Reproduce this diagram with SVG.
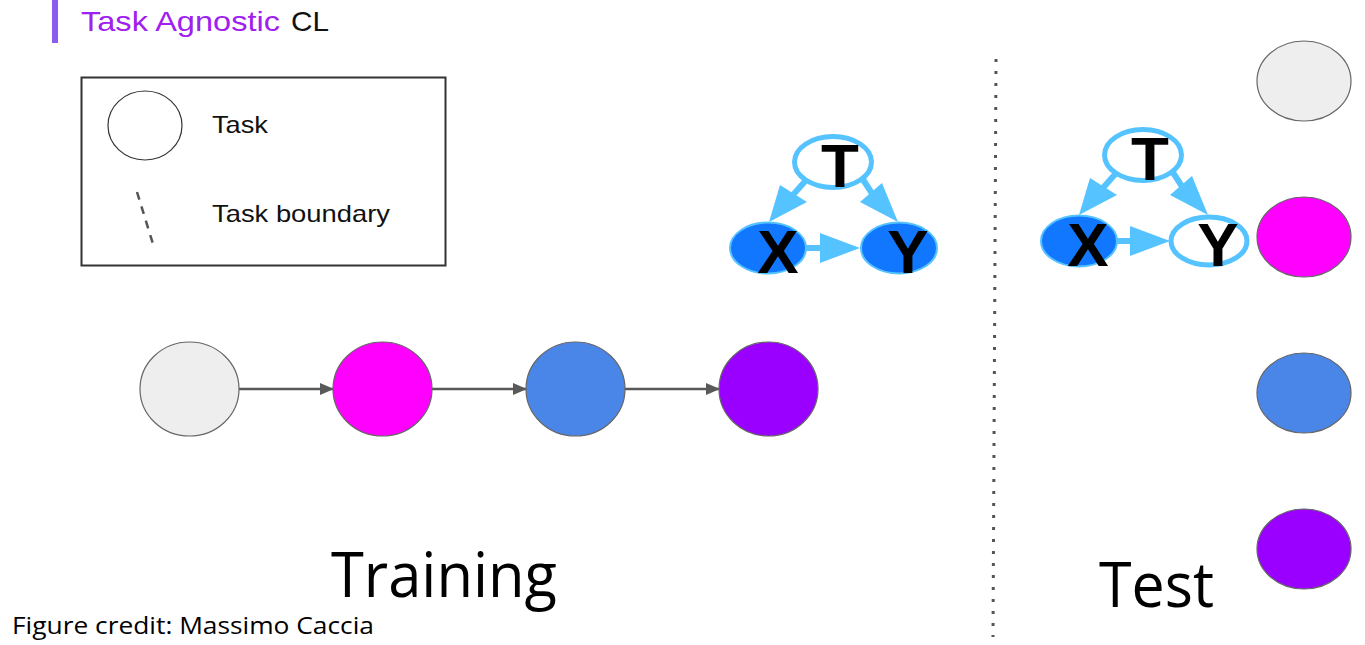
<svg xmlns="http://www.w3.org/2000/svg" width="1365" height="645" viewBox="0 0 1365 645">
<defs>
<style>
.task{stroke:#666;stroke-width:1.2}
.gray{fill:#eeeeee}
.mag{fill:#ff00ff}
.blu{fill:#4a86e8}
.pur{fill:#9900ff}
.chain{stroke:#595959;stroke-width:2.5;fill:none}
.ca{stroke:#55c3ff;stroke-width:6;fill:none}
.ch{fill:#55c3ff}
.var{font-family:"Liberation Sans",Arial,sans-serif;font-weight:bold;font-size:62px;text-anchor:middle;fill:#000}
.sans{font-family:"Liberation Sans",Arial,sans-serif}
.big{font-family:"Open Sans","Noto Sans",sans-serif;font-size:62px;fill:#000}
</style>
<marker id="ah" markerUnits="userSpaceOnUse" markerWidth="14" markerHeight="12" refX="13" refY="6" orient="auto">
<path d="M0,0 L14,6 L0,12 Z" fill="#595959"/>
</marker>
</defs>
<rect width="1365" height="645" fill="#ffffff"/>

<g id="title">
<rect x="52" y="0" width="6" height="43" fill="#8a5cf0"/>
<text class="sans" x="81" y="31" font-size="28" fill="#a020f0" textLength="199" lengthAdjust="spacingAndGlyphs">Task Agnostic</text>
<text class="sans" x="291" y="31" font-size="28" fill="#111" textLength="38" lengthAdjust="spacingAndGlyphs">CL</text>
</g>

<g id="legend">
<rect x="81.5" y="77.5" width="364" height="188" fill="none" stroke="#333" stroke-width="2"/>
<ellipse cx="145" cy="125.5" rx="37" ry="34.5" fill="none" stroke="#333" stroke-width="1.2"/>
<text class="sans" x="212" y="133" font-size="24" fill="#111" textLength="56" lengthAdjust="spacingAndGlyphs">Task</text>
<line x1="137" y1="192" x2="153" y2="244" stroke="#555" stroke-width="2.5" stroke-dasharray="8,7"/>
<text class="sans" x="212" y="222" font-size="24" fill="#111" textLength="178" lengthAdjust="spacingAndGlyphs">Task boundary</text>
</g>

<g id="connectors">
<line class="chain" x1="239" y1="389" x2="333" y2="389" marker-end="url(#ah)"/>
<line class="chain" x1="432" y1="389" x2="526" y2="389" marker-end="url(#ah)"/>
<line class="chain" x1="625" y1="389" x2="719" y2="389" marker-end="url(#ah)"/>
<!-- training graph arrows -->
<line class="ca" x1="808" y1="178" x2="792" y2="196"/>
<polygon class="ch" points="769,222 780,185 807,202"/>
<line class="ca" x1="862" y1="178" x2="873" y2="195"/>
<polygon class="ch" points="898,222 860,202 882,183"/>
<line class="ca" x1="806" y1="248" x2="822" y2="248"/>
<polygon class="ch" points="860,248 820,233 820,263"/>
<!-- test graph arrows -->
<line class="ca" x1="1118" y1="171" x2="1102" y2="189"/>
<polygon class="ch" points="1079,215 1090,178 1117,195"/>
<line class="ca" x1="1172" y1="171" x2="1183" y2="188"/>
<polygon class="ch" points="1208,215 1170,195 1192,176"/>
<line class="ca" x1="1116" y1="241" x2="1132" y2="241"/>
<polygon class="ch" points="1170,241 1130,226 1130,256"/>
<!-- boundary -->
<line x1="996" y1="59" x2="993" y2="637" stroke="#555" stroke-width="3" stroke-dasharray="3,9"/>
</g>

<g id="train-task1"><ellipse class="task gray" cx="189.5" cy="389" rx="49.5" ry="47"/></g>
<g id="train-task2"><ellipse class="task mag" cx="382.5" cy="389" rx="49.5" ry="47"/></g>
<g id="train-task3"><ellipse class="task blu" cx="575.5" cy="389" rx="49.5" ry="47"/></g>
<g id="train-task4"><ellipse class="task pur" cx="768.5" cy="389" rx="49.5" ry="47"/></g>

<g id="train-T">
<ellipse cx="833" cy="162" rx="38.5" ry="25.5" fill="#fff" stroke="#55c3ff" stroke-width="5"/>
<text class="var" x="840" y="187">T</text>
</g>
<g id="train-X">
<ellipse cx="768" cy="248" rx="38" ry="25.5" fill="#1177ff" stroke="#55c3ff" stroke-width="2"/>
<text class="var" x="778" y="273">X</text>
</g>
<g id="train-Y">
<ellipse cx="899" cy="248" rx="38" ry="25.5" fill="#1177ff" stroke="#55c3ff" stroke-width="2"/>
<text class="var" x="908" y="273">Y</text>
</g>

<g id="test-T">
<ellipse cx="1143" cy="155" rx="38.5" ry="25.5" fill="#fff" stroke="#55c3ff" stroke-width="5"/>
<text class="var" x="1150" y="180">T</text>
</g>
<g id="test-X">
<ellipse cx="1079" cy="241" rx="38" ry="25.5" fill="#1177ff" stroke="#55c3ff" stroke-width="2"/>
<text class="var" x="1088" y="266">X</text>
</g>
<g id="test-Y">
<ellipse cx="1209" cy="241" rx="38" ry="24" fill="#fff" stroke="#55c3ff" stroke-width="5"/>
<text class="var" x="1218" y="266">Y</text>
</g>

<g id="test-task1"><ellipse class="task gray" cx="1304" cy="81" rx="47" ry="40"/></g>
<g id="test-task2"><ellipse class="task mag" cx="1304" cy="237" rx="47" ry="40"/></g>
<g id="test-task3"><ellipse class="task blu" cx="1304" cy="393" rx="47" ry="40"/></g>
<g id="test-task4"><ellipse class="task pur" cx="1304" cy="549" rx="47" ry="40"/></g>

<g id="labels">
<text class="big" x="331" y="597" textLength="226" lengthAdjust="spacingAndGlyphs">Training</text>
<text class="big" x="1099" y="607" textLength="115" lengthAdjust="spacingAndGlyphs">Test</text>
<text x="12" y="634" font-family="Open Sans,Noto Sans,sans-serif" font-size="24" fill="#000" textLength="362" lengthAdjust="spacingAndGlyphs">Figure credit: Massimo Caccia</text>
</g>
</svg>
